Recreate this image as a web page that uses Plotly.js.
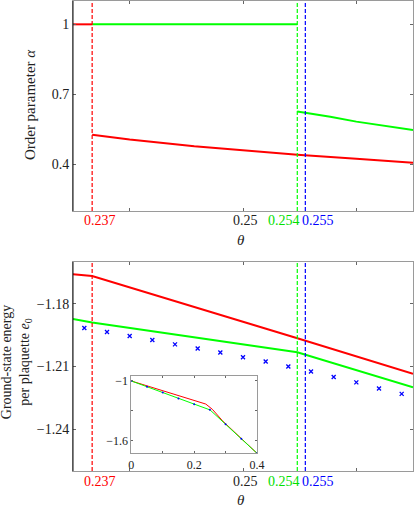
<!DOCTYPE html>
<html>
<head>
<meta charset="utf-8">
<script src="https://cdn.plot.ly/plotly-3.0.1.min.js"></script>
<style>html,body{margin:0;padding:0;background:#fff;}#chart{width:415px;height:507px;}</style>
</head>
<body>
<div id="chart"></div>
<script>
// ---- data ----
const transitionTheta = [0.23669, 0.25479, 0.2555];
const transitionLabels = ['0.237', '0.254', '0.255'];
const transitionColors = ['#ff0000', '#00e000', '#0000ff'];
const lineColors = ['#ff0000', '#00ff00', '#0000ff'];
const mainTickVals = [0.24, 0.25, 0.26];
const mainTickLabel = '0.25';

// top panel: order parameter alpha
const alphaRedTheta = [0.235, 0.23669, null, 0.23669, 0.240, 0.2457, 0.250, 0.2548, 0.260, 0.265];
const alphaRed = [1, 1, null, 0.527, 0.506, 0.477, 0.459, 0.441, 0.424, 0.407];
const alphaGreenTheta = [0.23669, 0.25479, null, 0.25479, 0.2577, 0.260, 0.265];
const alphaGreen = [1, 1, null, 0.626, 0.604, 0.583, 0.547];
const alphaTicks = [0.4, 0.7, 1];

// bottom panel: ground-state energy
const eRedTheta = [0.235, 0.23669, 0.2548, 0.265];
const eRed = [-1.1659, -1.1667, -1.1965, -1.2135];
const eGreenTheta = [0.235, 0.23669, 0.25479, 0.265];
const eGreen = [-1.1873, -1.1889, -1.2032, -1.2199];
const eBlueTheta = [0.236, 0.238, 0.240, 0.242, 0.244, 0.246, 0.248, 0.250, 0.252, 0.254, 0.256, 0.258, 0.260, 0.262, 0.264];
const eBlue = [-1.1916, -1.1935, -1.1954, -1.1973, -1.1994, -1.2014, -1.2033, -1.2056, -1.2076, -1.2100, -1.2124, -1.2150, -1.2176, -1.2205, -1.2231];
const eTicks = [-1.24, -1.21, -1.18];
const eTickText = ['\u22121.24', '\u22121.21', '\u22121.18'];

// inset: full range
const insRedTheta = [0, 0.237, 0.258, 0.29, 0.4];
const insRed = [-1, -1.232, -1.285, -1.40, -1.727];
const insGreenTheta = [0, 0.2506, 0.4];
const insGreen = [-1, -1.291, -1.727];
const insBlueTheta = [0, 0.05, 0.1, 0.15, 0.2, 0.25, 0.3, 0.35, 0.4];
const insBlue = [-1, -1.058, -1.116, -1.175, -1.233, -1.290, -1.436, -1.582, -1.727];
const insXTicks = [0, 0.2, 0.4];
const insXLabels = ['0', '0.2', '0.4'];
const insXMinor = [0.1, 0.3];
const insYTicks = [-1, -1.6];
const insYLabels = ['\u22121', '\u22121.6'];
const insYMinor = [-1.3];

// ---- chart ----
const FONT = '"Liberation Serif", "DejaVu Serif", serif';
const RED = '#ff0000', GREEN = '#00ff00', BLUE = '#0000ff';

function line(x, y, color, xa, ya, w) {
  return {x: x, y: y, xaxis: xa, yaxis: ya, type: 'scatter', mode: 'lines',
    line: {color: color, width: w}, connectgaps: false, hoverinfo: 'skip'};
}
const traces = [
  line(alphaRedTheta, alphaRed, RED, 'x', 'y', 2),
  line(alphaGreenTheta, alphaGreen, GREEN, 'x', 'y', 2),
  line(eRedTheta, eRed, RED, 'x2', 'y2', 2),
  line(eGreenTheta, eGreen, GREEN, 'x2', 'y2', 2),
  {x: eBlueTheta, y: eBlue, xaxis: 'x2', yaxis: 'y2', type: 'scatter', mode: 'markers',
   marker: {symbol: 'x-thin', size: 4, color: BLUE, line: {color: BLUE, width: 1.3}}},
  line(insRedTheta, insRed, RED, 'x3', 'y3', 1),
  line(insGreenTheta, insGreen, GREEN, 'x3', 'y3', 1),
  {x: insBlueTheta, y: insBlue, xaxis: 'x3', yaxis: 'y3', type: 'scatter', mode: 'markers',
   marker: {symbol: 'circle', size: 2, color: BLUE}},
];

const axBase = {showgrid: false, zeroline: false, showline: true, linecolor: '#9a9a9a', linewidth: 1,
  mirror: 'ticks', ticks: 'inside', ticklen: 3, tickcolor: '#666', tickwidth: 1,
  tickfont: {family: FONT, size: 14, color: '#222'}};

const layout = {
  width: 415, height: 507,
  margin: {l: 73, r: 2, t: 1, b: 36},
  paper_bgcolor: '#fff', plot_bgcolor: '#fff',
  showlegend: false,
  font: {family: FONT, size: 14, color: '#222'},
  xaxis: Object.assign({}, axBase, {domain: [0, 1], anchor: 'y', range: [0.235, 0.265],
    tickmode: 'array', tickvals: mainTickVals, showticklabels: false}),
  yaxis: Object.assign({}, axBase, {domain: [0.5532, 1], anchor: 'x', range: [0.2, 1.1],
    tickmode: 'array', tickvals: alphaTicks, ticktext: alphaTicks.map(String)}),
  xaxis2: Object.assign({}, axBase, {domain: [0, 1], anchor: 'y2', range: [0.235, 0.265],
    tickmode: 'array', tickvals: mainTickVals, showticklabels: false}),
  yaxis2: Object.assign({}, axBase, {domain: [0, 0.4447], anchor: 'x2', range: [-1.26, -1.16],
    tickmode: 'array', tickvals: eTicks, ticktext: eTickText}),
  xaxis3: Object.assign({}, axBase, {domain: [0.1715, 0.5412], anchor: 'y3', range: [0, 0.4],
    tickmode: 'array', tickvals: insXTicks, ticktext: insXLabels, ticklen: 2,
    minor: {tickvals: insXMinor, ticks: 'inside', ticklen: 2, tickcolor: '#666', showgrid: false},
    tickfont: {family: FONT, size: 12, color: '#222'}}),
  yaxis3: Object.assign({}, axBase, {domain: [0.0377, 0.2021], anchor: 'x3', range: [-1.727, -0.95],
    tickmode: 'array', tickvals: insYTicks, ticktext: insYLabels, ticklen: 2,
    minor: {tickvals: insYMinor, ticks: 'inside', ticklen: 2, tickcolor: '#666', showgrid: false},
    tickfont: {family: FONT, size: 12, color: '#222'}}),
  shapes: [],
  annotations: []
};

['', '2'].forEach(function (s) {
  transitionTheta.forEach(function (t, i) {
    layout.shapes.push({type: 'line', xref: 'x' + s, yref: 'y' + s + ' domain', x0: t, x1: t, y0: 0, y1: 1,
      line: {color: lineColors[i], width: 1.2, dash: '4px,2px'}});
  });
  layout.shapes.push({type: 'line', xref: 'x' + s + ' domain', yref: 'y' + s + ' domain', x0: 0, x1: 0, y0: 0, y1: 1,
    line: {color: '#111', width: 1}});
  const shifts = [7.5, -13, 13];
  transitionTheta.forEach(function (t, i) {
    layout.annotations.push({xref: 'x' + s, yref: 'y' + s + ' domain', x: t, y: 0, xshift: shifts[i],
      yshift: -10, yanchor: 'middle', xanchor: 'center', showarrow: false, text: transitionLabels[i],
      font: {family: FONT, size: 14, color: transitionColors[i]}});
  });
  layout.annotations.push({xref: 'x' + s, yref: 'y' + s + ' domain', x: mainTickVals[1], y: 0, xshift: 2.7,
    yshift: -10, yanchor: 'middle', xanchor: 'center', showarrow: false, text: mainTickLabel,
    font: {family: FONT, size: 14, color: '#222'}});
  layout.annotations.push({xref: 'x' + s, yref: 'y' + s + ' domain', x: mainTickVals[1], y: 0, xshift: -1.6,
    yshift: -29, yanchor: 'middle', xanchor: 'center', showarrow: false, text: '<i>θ</i>',
    font: {family: FONT, size: 15, color: '#222'}});
});

layout.annotations.push({xref: 'x domain', yref: 'y domain', x: -0.126, y: 0.505, textangle: -90,
  xanchor: 'center', yanchor: 'middle', showarrow: false, text: 'Order parameter <i>α</i>',
  font: {family: FONT, size: 15, color: '#222'}});
layout.annotations.push({xref: 'x2 domain', yref: 'y2 domain', x: -0.168, y: 0.52, textangle: -90,
  xanchor: 'center', yanchor: 'middle', showarrow: false,
  text: 'Ground-state energy<br>per plaquette <i>e</i><sub>0</sub>',
  font: {family: FONT, size: 14, color: '#222'}});

Plotly.newPlot('chart', traces, layout, {staticPlot: true, displayModeBar: false});
</script>
</body>
</html>
